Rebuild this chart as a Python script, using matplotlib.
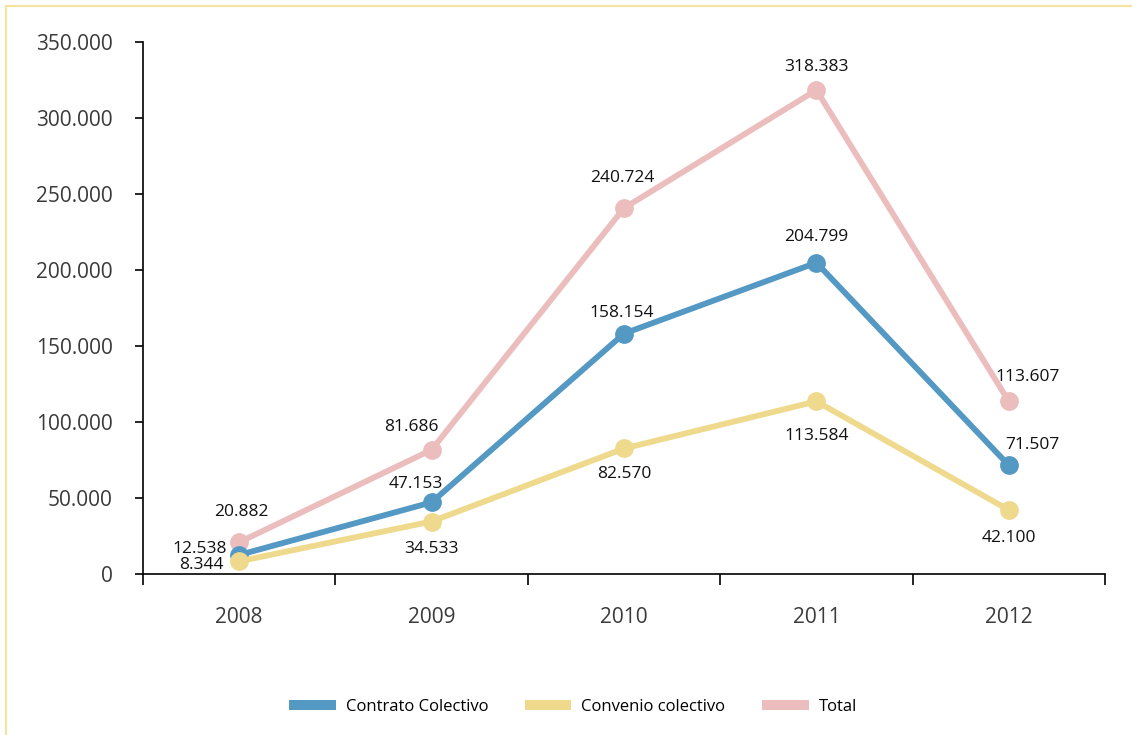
import matplotlib
matplotlib.use("Agg")
import matplotlib.pyplot as plt
from matplotlib.patches import Patch
from matplotlib.lines import Line2D
from matplotlib.ticker import FuncFormatter

years = ["2008", "2009", "2010", "2011", "2012"]
contrato = [12538, 47153, 158154, 204799, 71507]
convenio = [8344, 34533, 82570, 113584, 42100]
total = [20882, 81686, 240724, 318383, 113607]
series_names = ["Contrato Colectivo", "Convenio colectivo", "Total"]

c_blue = "#5498C4"
c_yellow = "#EED98C"
c_pink = "#EBBDBD"

plt.rcParams['font.family'] = ['Open Sans', 'DejaVu Sans']

fig = plt.figure(figsize=(11.32, 7.35), dpi=100)
ax = fig.add_axes([143/1132, 1-574/735, (1105-143)/1132, (574-42)/735])

x = list(range(len(years)))
ax.plot(x, total, color=c_pink, lw=4.2, marker='o', ms=12.5, zorder=2, solid_capstyle='round')
ax.plot(x, contrato, color=c_blue, lw=4.2, marker='o', ms=12.5, zorder=3, solid_capstyle='round')
ax.plot(x, convenio, color=c_yellow, lw=4.2, marker='o', ms=12.5, zorder=4, solid_capstyle='round')

def fmt(v):
    return f"{v:,}".replace(",", ".")

off_total = [(2, 30), (-20, 23), (-2, 30), (0, 23), (19, 24)]
off_contr = [(-40, 6), (-16, 18), (-2, 21), (0, 26), (24, 20)]
off_conv = [(-38, -4), (0, -27), (0, -26), (0, -35), (0, -28)]

for vals, offs in ((total, off_total), (contrato, off_contr), (convenio, off_conv)):
    for i, (v, o) in enumerate(zip(vals, offs)):
        ax.annotate(fmt(v), (i, v), xytext=o, textcoords='offset pixels',
                    ha='center', va='center', fontsize=12.5, color='#111111', zorder=6)

ax.set_xlim(-0.5, 4.5)
ax.set_ylim(0, 350000)
ax.set_yticks(range(0, 350001, 50000))
ax.yaxis.set_major_formatter(FuncFormatter(lambda v, p: fmt(int(v))))
ax.set_xticks(x)
ax.set_xticklabels(years)
ax.set_xticks([i - 0.5 for i in range(6)], minor=True)
ax.tick_params(axis='x', which='major', length=0, pad=24, labelsize=15, labelcolor='#3a3a3a')
ax.tick_params(axis='x', which='minor', length=8, width=1.2, direction='out', color='black')
ax.tick_params(axis='y', which='major', length=6, width=1.2, pad=16, labelsize=15, labelcolor='#3a3a3a')
for s in ('top', 'right'):
    ax.spines[s].set_visible(False)
for s in ('left', 'bottom'):
    ax.spines[s].set_linewidth(1.2)
    ax.spines[s].set_color('black')

handles = [Patch(facecolor=c, edgecolor='none') for c in (c_blue, c_yellow, c_pink)]
fig.legend(handles, series_names, loc='center', bbox_to_anchor=(573/1132, 1-707/735),
           ncol=3, frameon=False, fontsize=12, handlelength=2.8, handleheight=0.6,
           handletextpad=0.6, columnspacing=2.2)

# thin decorative border
fig.add_artist(Line2D([6/1132, 1], [1-6/735, 1-6/735], color='#F5E3A0', lw=1.5, transform=fig.transFigure))
fig.add_artist(Line2D([6/1132, 6/1132], [0, 1-6/735], color='#F5E3A0', lw=1.5, transform=fig.transFigure))

fig.savefig("out.png", dpi=100)
